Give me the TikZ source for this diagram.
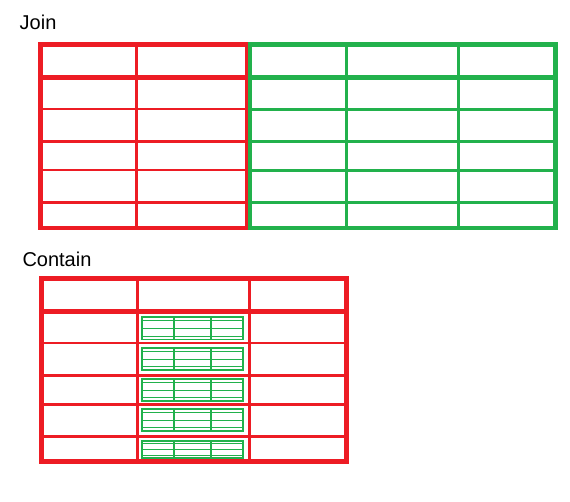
\documentclass[tikz,border=0pt]{standalone}
\usepackage{fontspec}
\setmainfont{Liberation Sans}
\definecolor{pred}{HTML}{ED1C24}
\definecolor{pgreen}{HTML}{22B14C}
\begin{document}
\begin{tikzpicture}[x=1pt,y=-1pt,
  outer/.style={line width=4.5pt},
  headline/.style={line width=5pt},
  innerline/.style={line width=2.7pt},
  mouter/.style={line width=1.8pt, draw=pgreen},
  mvert/.style={line width=1.8pt, draw=pgreen},
  mthin/.style={line width=1pt, draw=pgreen},
  lbl/.style={anchor=base west, font=\fontsize{20}{24}\selectfont, inner sep=0pt, text=black}]
\useasboundingbox (0,0) rectangle (570,501);
% labels
\node[lbl] (join) at (19.5,29) {Join};
\node[lbl] (contain) at (22.3,266.7) {Contain};
% Join: red table
\draw[pred,innerline] (136.5,44.5) -- (136.5,228);
\foreach \y in {109,141.3,170,202.3} \draw[pred,innerline] (40.5,\y) -- (247,\y);
\draw[pred,headline] (40.5,77.5) -- (247,77.5);
\draw[pred,outer] (40.5,44.5) rectangle (247,228);
% Join: green table
\foreach \x in {346.3,458.3} \draw[pgreen,innerline] (\x,44.5) -- (\x,228);
\foreach \y in {109.3,141.3,170.3,202.3} \draw[pgreen,innerline] (250,\y) -- (555.5,\y);
\draw[pgreen,headline] (250,77.5) -- (555.5,77.5);
\draw[pgreen,outer] (250,44.5) rectangle (555.5,228);
% Contain: red table
\foreach \x in {137.3,249.7} \draw[pred,innerline] (\x,278.3) -- (\x,461.7);
\foreach \y in {343,375.3,404.7,436.3} \draw[pred,innerline] (41.7,\y) -- (346.3,\y);
\draw[pred,headline] (41.7,311.5) -- (346.3,311.5);
\draw[pred,outer] (41.7,278.3) rectangle (346.3,461.7);
% mini green tables
\foreach \t/\b in {317/339.5,348/370,379/401,409/431,441/458}{
  \foreach \f in {0.14,0.5,0.86}
    \draw[mthin] (142,{\t+\f*(\b-\t)}) -- (243,{\t+\f*(\b-\t)});
  \foreach \x in {174,211} \draw[mvert] (\x,\t) -- (\x,\b);
  \draw[mouter] (142,\t) rectangle (243,\b);
}
\end{tikzpicture}
\end{document}
